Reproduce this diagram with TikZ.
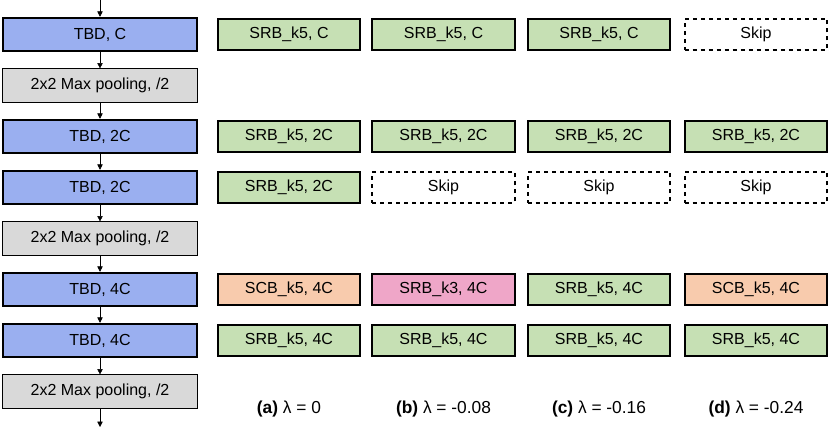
\documentclass[tikz,border=0pt]{standalone}
\usepackage{fontspec}
\setmainfont{Liberation Sans}
\usetikzlibrary{arrows.meta}
\definecolor{tbdblue}{HTML}{9AAFF0}
\definecolor{srbgreen}{HTML}{C6E0B4}
\definecolor{poolgray}{HTML}{D9D9D9}
\definecolor{scborange}{HTML}{F8CBAD}
\definecolor{kpink}{HTML}{EFA6C8}
\begin{document}
\begin{tikzpicture}[
  x=0.75pt, y=-0.75pt,
  every node/.style={font=\fontsize{12}{14}\selectfont},
  tbd/.style={draw, line width=1.6pt, fill=tbdblue, minimum width=146pt, minimum height=25pt, inner sep=0pt},
  pool/.style={draw, line width=0.6pt, fill=poolgray, minimum width=146pt, minimum height=25pt, inner sep=0pt},
  blk/.style={draw, line width=1.6pt, minimum width=107pt, minimum height=23pt, inner sep=0pt},
  srb/.style={blk, fill=srbgreen},
  scb/.style={blk, fill=scborange},
  kthree/.style={blk, fill=kpink},
  skipbox/.style={blk, dashed, fill=white},
  lbl/.style={font=\fontsize{13}{15}\selectfont}
]
\useasboundingbox (0,0) rectangle (831,427);

% backbone
\node[tbd]  (T1) at (100,34.5)  {TBD, C};
\node[pool] (P1) at (100,85.5)  {2x2 Max pooling, /2};
\node[tbd]  (T2) at (100,136.5) {TBD, 2C};
\node[tbd]  (T3) at (100,187.5) {TBD, 2C};
\node[pool] (P2) at (100,238.5) {2x2 Max pooling, /2};
\node[tbd]  (T4) at (100,289.5) {TBD, 4C};
\node[tbd]  (T5) at (100,340.5) {TBD, 4C};
\node[pool] (P3) at (100,391.5) {2x2 Max pooling, /2};

\coordinate (in) at (100,0);
\coordinate (out) at (100,427);

\draw[-{Triangle[length=4pt,width=4pt]}] (in) -- (T1);
\foreach \a/\b in {T1/P1,P1/T2,T2/T3,T3/P2,P2/T4,T4/T5,T5/P3} {
  \draw[-{Triangle[length=4pt,width=4pt]}] (\a) -- (\b);
}
\draw[-{Triangle[length=4pt,width=4pt]}] (P3) -- (out);

% column (a)
\node[srb] (A1) at (289,34.5)  {SRB\_k5, C};
\node[srb] (A2) at (289,136.5) {SRB\_k5, 2C};
\node[srb] (A3) at (289,187.5) {SRB\_k5, 2C};
\node[scb] (A4) at (289,289.5) {SCB\_k5, 4C};
\node[srb] (A5) at (289,340.5) {SRB\_k5, 4C};
\node[lbl] (La) at (289,409) {\textbf{(a)} λ = 0};

% column (b)
\node[srb] (B1) at (443.5,34.5)  {SRB\_k5, C};
\node[srb] (B2) at (443.5,136.5) {SRB\_k5, 2C};
\node[skipbox] (B3) at (443.5,187.5) {Skip};
\node[kthree] (B4) at (443.5,289.5) {SRB\_k3, 4C};
\node[srb] (B5) at (443.5,340.5) {SRB\_k5, 4C};
\node[lbl] (Lb) at (443.5,409) {\textbf{(b)} λ = -0.08};

% column (c)
\node[srb] (C1) at (599,34.5)  {SRB\_k5, C};
\node[srb] (C2) at (599,136.5) {SRB\_k5, 2C};
\node[skipbox] (C3) at (599,187.5) {Skip};
\node[srb] (C4) at (599,289.5) {SRB\_k5, 4C};
\node[srb] (C5) at (599,340.5) {SRB\_k5, 4C};
\node[lbl] (Lc) at (599,409) {\textbf{(c)} λ = -0.16};

% column (d)
\node[skipbox] (D1) at (756,34.5)  {Skip};
\node[srb] (D2) at (756,136.5) {SRB\_k5, 2C};
\node[skipbox] (D3) at (756,187.5) {Skip};
\node[scb] (D4) at (756,289.5) {SCB\_k5, 4C};
\node[srb] (D5) at (756,340.5) {SRB\_k5, 4C};
\node[lbl] (Ld) at (756,409) {\textbf{(d)} λ = -0.24};

\end{tikzpicture}
\end{document}
